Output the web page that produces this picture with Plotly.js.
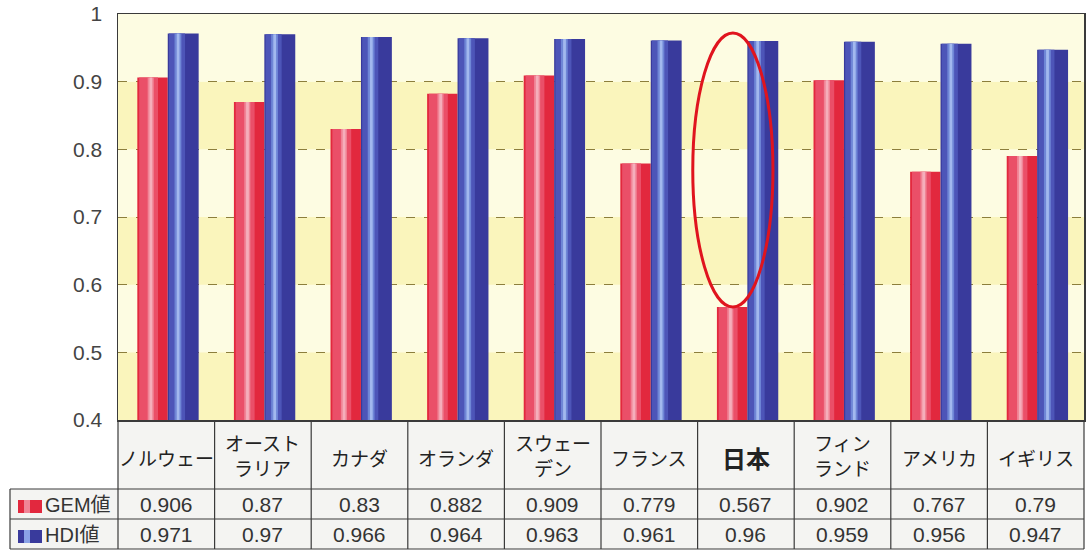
<!DOCTYPE html>
<html>
<head>
<meta charset="utf-8">
<script src="https://cdn.plot.ly/plotly-3.0.1.min.js"></script>
<style>
html,body{margin:0;padding:0;background:#fff;}
#chart{width:1088px;height:551px;}
</style>
</head>
<body>
<div id="chart"></div>
<script>
// ---- data ----
const categories = ["ノルウェー","オースト<br>ラリア","カナダ","オランダ","スウェー<br>デン","フランス","日本","フィン<br>ランド","アメリカ","イギリス"];
const gemValues = [0.906,0.87,0.83,0.882,0.909,0.779,0.567,0.902,0.767,0.79];
const hdiValues = [0.971,0.97,0.966,0.964,0.963,0.961,0.96,0.959,0.956,0.947];
const seriesNames = ["GEM値","HDI値"];
const yTicks = [0.4,0.5,0.6,0.7,0.8,0.9,1];
const highlightCategory = "日本";

// ---- layout helpers (pixel -> paper) ----
const W = 1088, H = 551, ML = 118, MR = 4, MT = 14, MB = 131;
const PW = W - ML - MR, PH = H - MT - MB;
const px = x => (x - ML) / PW;
const py = y => (MT + PH - y) / PH;

const FONT = "Liberation Sans, Arial, Noto Sans CJK JP, sans-serif";
const JFONT = "Noto Sans CJK JP, Liberation Sans, sans-serif";

// bar geometry (in category units)
const redOff = -0.30, redW = 0.315, blueOff = 0.015, blueW = 0.32;

function barLayer(vals, off, w, color, name, legend) {
  return {
    type: "bar", x: categories, y: vals, name: name,
    offset: off, width: w,
    marker: {color: color, line: {width: 0}},
    hoverinfo: legend ? "y+name" : "skip",
    showlegend: false
  };
}

const traces = [
  barLayer(gemValues, redOff, redW, "#e2283e", seriesNames[0], true),
  barLayer(gemValues, redOff + redW*0.06, redW*0.62, "#ea4f68", seriesNames[0], false),
  barLayer(gemValues, redOff + redW*0.34, redW*0.20, "#f08496", seriesNames[0], false),
  barLayer(gemValues, redOff + redW*0.40, redW*0.09, "#f5aebb", seriesNames[0], false),
  barLayer(hdiValues, blueOff, blueW, "#393a9c", seriesNames[1], true),
  barLayer(hdiValues, blueOff + blueW*0.04, blueW*0.52, "#4d55b8", seriesNames[1], false),
  barLayer(hdiValues, blueOff + blueW*0.22, blueW*0.22, "#6f86d6", seriesNames[1], false),
  barLayer(hdiValues, blueOff + blueW*0.29, blueW*0.09, "#a2b8ee", seriesNames[1], false)
];

// ---- shapes ----
const shapes = [];
// alternating background bands
for (let i = 0; i < yTicks.length - 1; i++) {
  shapes.push({type:"rect", xref:"paper", yref:"y", x0:0, x1:1, y0:yTicks[i], y1:yTicks[i+1],
    fillcolor: (i % 2 === 0) ? "#faf5bc" : "#fdfce2", line:{width:0}, layer:"below"});
}
// table background
shapes.push({type:"rect", xref:"paper", yref:"paper", x0:0, x1:1, y0:py(549), y1:0,
  fillcolor:"#f4f4f2", line:{width:0}, layer:"below"});
shapes.push({type:"rect", xref:"paper", yref:"paper", x0:px(10), x1:0, y0:py(549), y1:py(489),
  fillcolor:"#f4f4f2", line:{width:0}, layer:"below"});
// table horizontal lines
const lineCol = "#3a3a3a";
[489, 519, 549].forEach(y => shapes.push({type:"line", xref:"paper", yref:"paper",
  x0:px(10), x1:1, y0:py(y), y1:py(y), line:{color:lineCol, width:1.2}}));
// table vertical lines
for (let k = 0; k <= categories.length; k++) {
  shapes.push({type:"line", xref:"paper", yref:"paper", x0:k/categories.length, x1:k/categories.length,
    y0:py(549), y1:0, line:{color:lineCol, width:1.2}});
}
shapes.push({type:"line", xref:"paper", yref:"paper", x0:px(10), x1:px(10), y0:py(549), y1:py(489),
  line:{color:lineCol, width:1.2}});
// legend swatches
const swatches = [["#e2283e","#f08496",500],["#393a9c","#8aa2e6",530]];
swatches.forEach(s => {
  shapes.push({type:"rect", xref:"paper", yref:"paper", x0:px(18), x1:px(42), y0:py(s[2]+13), y1:py(s[2]),
    fillcolor:s[0], line:{width:0}});
  shapes.push({type:"rect", xref:"paper", yref:"paper", x0:px(24), x1:px(30), y0:py(s[2]+13), y1:py(s[2]),
    fillcolor:s[1], line:{width:0}});
});
// ellipse around Japan
const jIdx = categories.indexOf(highlightCategory);
shapes.push({type:"circle", xref:"x", yref:"y", x0:jIdx-0.55, x1:jIdx+0.28,
  y0:gemValues[jIdx], y1:0.972, line:{color:"#e0141e", width:3}, layer:"above"});

// ---- annotations ----
const annotations = [];
categories.forEach((c, i) => {
  const multi = c.indexOf("<br>") >= 0;
  const isHi = c === highlightCategory;
  annotations.push({xref:"x", yref:"paper", x:i, y:py(multi ? 455 : 457), text: isHi ? "<b>"+c+"</b>" : c,
    showarrow:false, xanchor:"center", yanchor:"middle", align:"center",
    font:{family:JFONT, size: isHi ? 24 : 19, color:"#222"}});
  annotations.push({xref:"x", yref:"paper", x:i, y:py(504), text:String(gemValues[i]),
    showarrow:false, xanchor:"center", yanchor:"middle", font:{family:FONT, size:21, color:"#333"}});
  annotations.push({xref:"x", yref:"paper", x:i, y:py(534), text:String(hdiValues[i]),
    showarrow:false, xanchor:"center", yanchor:"middle", font:{family:FONT, size:21, color:"#333"}});
});
[[seriesNames[0],505],[seriesNames[1],535]].forEach(s => annotations.push({xref:"paper", yref:"paper",
  x:px(43), y:py(s[1]), text:s[0], showarrow:false, xanchor:"left", yanchor:"middle",
  font:{family:FONT, size:20, color:"#333"}}));

const layout = {
  width: W, height: H,
  margin: {l:ML, r:MR, t:MT, b:MB, pad:0},
  paper_bgcolor: "#ffffff",
  plot_bgcolor: "#fdfce2",
  barmode: "overlay",
  showlegend: false,
  xaxis: {type:"category", range:[-0.5, categories.length-0.5], showticklabels:false,
    showgrid:false, zeroline:false, showline:true, mirror:true, linecolor:"#3a3a3a", linewidth:1.5,
    ticks:""},
  yaxis: {range:[0.4, 1], tickvals:yTicks, ticktext:yTicks.map(String), showgrid:true,
    gridcolor:"#8c7e3c", griddash:"dash", gridwidth:1, zeroline:false,
    showline:true, mirror:true, linecolor:"#3a3a3a", linewidth:1.5, ticks:"",
    ticklabelstandoff:10, tickfont:{family:FONT, size:21, color:"#444"}},
  shapes: shapes,
  annotations: annotations
};

Plotly.newPlot("chart", traces, layout, {displayModeBar:false, staticPlot:true});
</script>
</body>
</html>
